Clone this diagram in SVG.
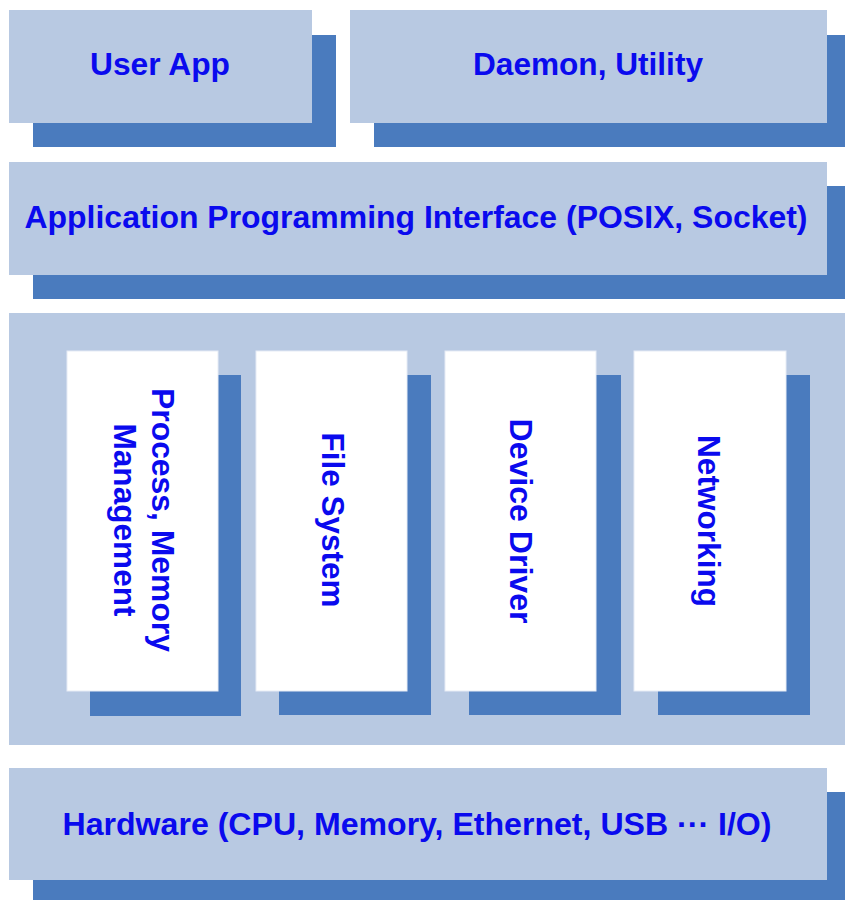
<svg xmlns="http://www.w3.org/2000/svg" width="845" height="900" viewBox="0 0 845 900">
  <style>
    .bg { fill: #ffffff; }
    .lt { fill: #B8C9E2; }
    .sh { fill: #4A7BBE; }
    .wh { fill: #ffffff; stroke: #E6ECF5; stroke-width: 1; }
    .t { font-family: "Liberation Sans", Arial, sans-serif; font-weight: bold; font-size: 31px; fill: #0A0AEE; text-anchor: middle; }
  </style>
  <rect class="bg" x="0" y="0" width="845" height="900"/>

  <g id="user-app">
    <rect class="sh" x="33" y="35" width="303" height="112"/>
    <rect class="lt" x="9" y="10" width="303" height="113"/>
    <text class="t" x="160" y="75" textLength="140" lengthAdjust="spacingAndGlyphs">User App</text>
  </g>

  <g id="daemon-utility">
    <rect class="sh" x="374" y="35" width="471" height="112"/>
    <rect class="lt" x="350" y="10" width="477" height="113"/>
    <text class="t" x="588" y="75" textLength="230" lengthAdjust="spacingAndGlyphs">Daemon, Utility</text>
  </g>

  <g id="api">
    <rect class="sh" x="33" y="186" width="812" height="113"/>
    <rect class="lt" x="9" y="162" width="818" height="113"/>
    <text class="t" x="416" y="228" textLength="783" lengthAdjust="spacingAndGlyphs">Application Programming Interface (POSIX, Socket)</text>
  </g>

  <g id="kernel">
    <rect class="lt" x="9" y="313" width="836" height="432"/>
  </g>

  <g id="process-memory">
    <rect class="sh" x="90" y="375" width="151" height="341"/>
    <rect class="wh" x="67" y="351" width="151" height="340"/>
    <g transform="translate(152,520) rotate(90)">
      <text class="t" x="0" y="0" textLength="264" lengthAdjust="spacingAndGlyphs">Process, Memory</text>
      <text class="t" x="0" y="38" textLength="193" lengthAdjust="spacingAndGlyphs">Management</text>
    </g>
  </g>

  <g id="file-system">
    <rect class="sh" x="279" y="375" width="152" height="340"/>
    <rect class="wh" x="256" y="351" width="151" height="340"/>
    <text class="t" transform="translate(322,520) rotate(90)" x="0" y="0" textLength="175" lengthAdjust="spacingAndGlyphs">File System</text>
  </g>

  <g id="device-driver">
    <rect class="sh" x="469" y="375" width="152" height="340"/>
    <rect class="wh" x="445" y="351" width="151" height="340"/>
    <text class="t" transform="translate(510,521) rotate(90)" x="0" y="0" textLength="205" lengthAdjust="spacingAndGlyphs">Device Driver</text>
  </g>

  <g id="networking">
    <rect class="sh" x="658" y="375" width="152" height="340"/>
    <rect class="wh" x="634" y="351" width="152" height="340"/>
    <text class="t" transform="translate(698,521) rotate(90)" x="0" y="0" textLength="172" lengthAdjust="spacingAndGlyphs">Networking</text>
  </g>

  <g id="hardware">
    <rect class="sh" x="33" y="792" width="812" height="108"/>
    <rect class="lt" x="9" y="768" width="818" height="112"/>
    <text class="t" x="417" y="835" textLength="709" lengthAdjust="spacingAndGlyphs">Hardware (CPU, Memory, Ethernet, USB ··· I/O)</text>
  </g>

  <g id="connectors"></g>
</svg>
